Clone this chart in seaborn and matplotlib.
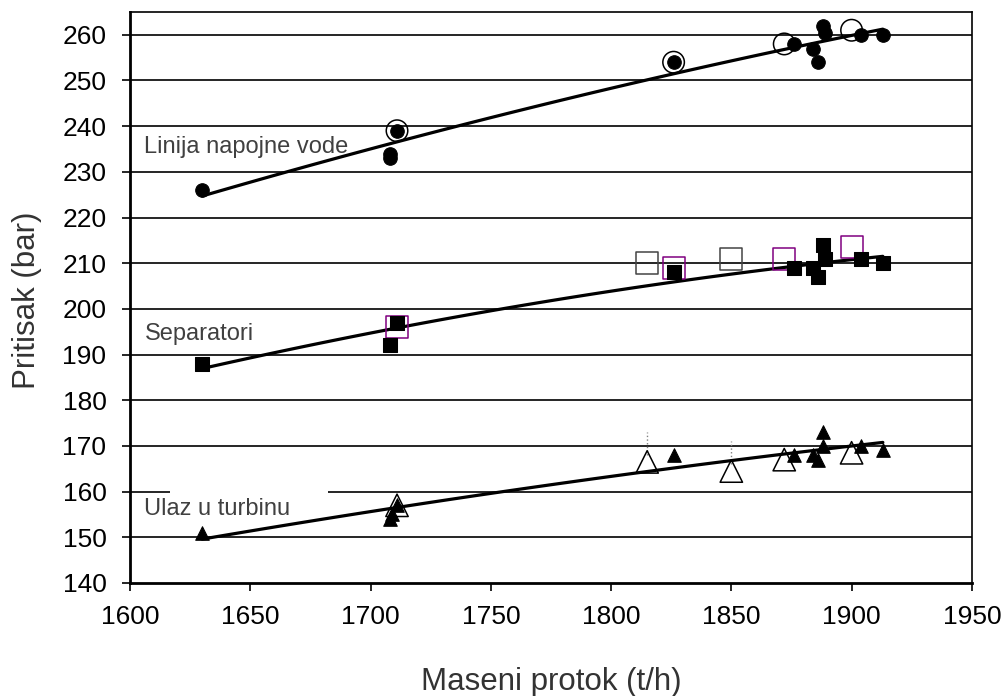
import numpy as np
import matplotlib
matplotlib.use("Agg")
import matplotlib.pyplot as plt
from matplotlib.patches import Rectangle
import seaborn as sns

# feedwater line (circles)
fw_x = [1630, 1708, 1708, 1711, 1826, 1876, 1884, 1886, 1888, 1889, 1904, 1913]
fw_y = [226, 233, 234, 239, 254, 258, 257, 254, 262, 260.5, 260, 260]
fw_open_x = [1711, 1826, 1872, 1900]
fw_open_y = [239, 254, 258, 261]

# separators (squares)
sep_x = [1630, 1708, 1711, 1826, 1876, 1884, 1886, 1888, 1889, 1904, 1913]
sep_y = [188, 192, 197, 208, 209, 209, 207, 214, 211, 211, 210]
sep_open_gray_x = [1815, 1850]
sep_open_gray_y = [210, 211]
sep_open_purple_x = [1711, 1826, 1872, 1900]
sep_open_purple_y = [196, 209, 211, 213.5]

# turbine inlet (triangles)
tur_x = [1630, 1708, 1709, 1711, 1826, 1876, 1884, 1886, 1888, 1888, 1904, 1913]
tur_y = [151, 154, 155, 157, 168, 168, 168, 167, 173, 170, 170, 169]
tur_open_x = [1711, 1815, 1850, 1872, 1900]
tur_open_y = [157, 166.5, 164.5, 167, 168.5]
tur_err_top = [None, 173, 171, None, None]

sns.set_style("white")
plt.rcParams['font.family'] = ['Liberation Sans', 'DejaVu Sans']

fig = plt.figure(figsize=(10.05, 6.96), dpi=100)
ax = fig.add_axes([0.1294, 0.1624, 0.8376, 0.8204])

ax.set_xlim(1600, 1950)
ax.set_ylim(140, 265)
ax.set_yticks(np.arange(140, 261, 10))
ax.set_xticks(np.arange(1600, 1951, 50))
for yv in np.arange(150, 261, 10):
    ax.axhline(yv, color="black", lw=1.2, zorder=0)

# white label box that hides part of the 160 gridline
ax.add_patch(Rectangle((1616.6, 158.5), 65.7, 3.0, facecolor="white",
                       edgecolor="none", zorder=1))

# dotted whiskers above open triangles
for xv, yv, top in zip(tur_open_x, tur_open_y, tur_err_top):
    if top is not None:
        ax.vlines(xv, yv + 1.5, top, colors="gray", linestyles=":", lw=1)

for xs, ys in [(fw_x, fw_y), (sep_x, sep_y), (tur_x, tur_y)]:
    sns.regplot(x=np.array(xs, float), y=np.array(ys, float), order=2, ci=None,
                scatter=False, ax=ax, truncate=True,
                line_kws=dict(color="black", lw=2.3, zorder=3))

sns.scatterplot(x=fw_open_x, y=fw_open_y, ax=ax, marker="o", s=240,
                facecolor="none", edgecolor="black", linewidth=1.1, zorder=4)
sns.scatterplot(x=fw_x, y=fw_y, ax=ax, marker="o", s=95,
                color="black", edgecolor="black", zorder=5)

sns.scatterplot(x=sep_open_gray_x, y=sep_open_gray_y, ax=ax, marker="s", s=250,
                facecolor="none", edgecolor="#444444", linewidth=1.1, zorder=4)
sns.scatterplot(x=sep_open_purple_x, y=sep_open_purple_y, ax=ax, marker="s", s=250,
                facecolor="none", edgecolor="#800080", linewidth=1.1, zorder=4)
sns.scatterplot(x=sep_x, y=sep_y, ax=ax, marker="s", s=90,
                color="black", edgecolor="black", zorder=5)

sns.scatterplot(x=tur_open_x, y=tur_open_y, ax=ax, marker="^", s=260,
                facecolor="none", edgecolor="black", linewidth=1.1, zorder=4)
sns.scatterplot(x=tur_x, y=tur_y, ax=ax, marker="^", s=95,
                color="black", edgecolor="black", zorder=5)

txt = dict(fontsize=17, color="#404040", ha="left", va="center", zorder=6)
ax.text(1606, 235.5, "Linija napojne vode", **txt)
ax.text(1606, 194.5, "Separatori", **txt)
ax.text(1606, 156.3, "Ulaz u turbinu", **txt)

for s in ax.spines.values():
    s.set_visible(True)
    s.set_color("black")
    s.set_linewidth(1.2)
ax.spines["left"].set_linewidth(2)
ax.spines["bottom"].set_linewidth(2)
ax.tick_params(axis="both", direction="out", length=6, width=1.2, labelsize=19,
               colors="black", left=True, bottom=True)
ax.tick_params(axis="x", pad=10)
ax.tick_params(axis="y", pad=11)
ax.set_xlabel("Maseni protok (t/h)", fontsize=22.5, color="#333333")
ax.set_ylabel("Pritisak (bar)", fontsize=22.5, color="#333333")
ax.xaxis.set_label_coords(0.5, -0.147)
ax.yaxis.set_label_coords(-0.105, 0.496)

fig.savefig("out.png", dpi=100)
